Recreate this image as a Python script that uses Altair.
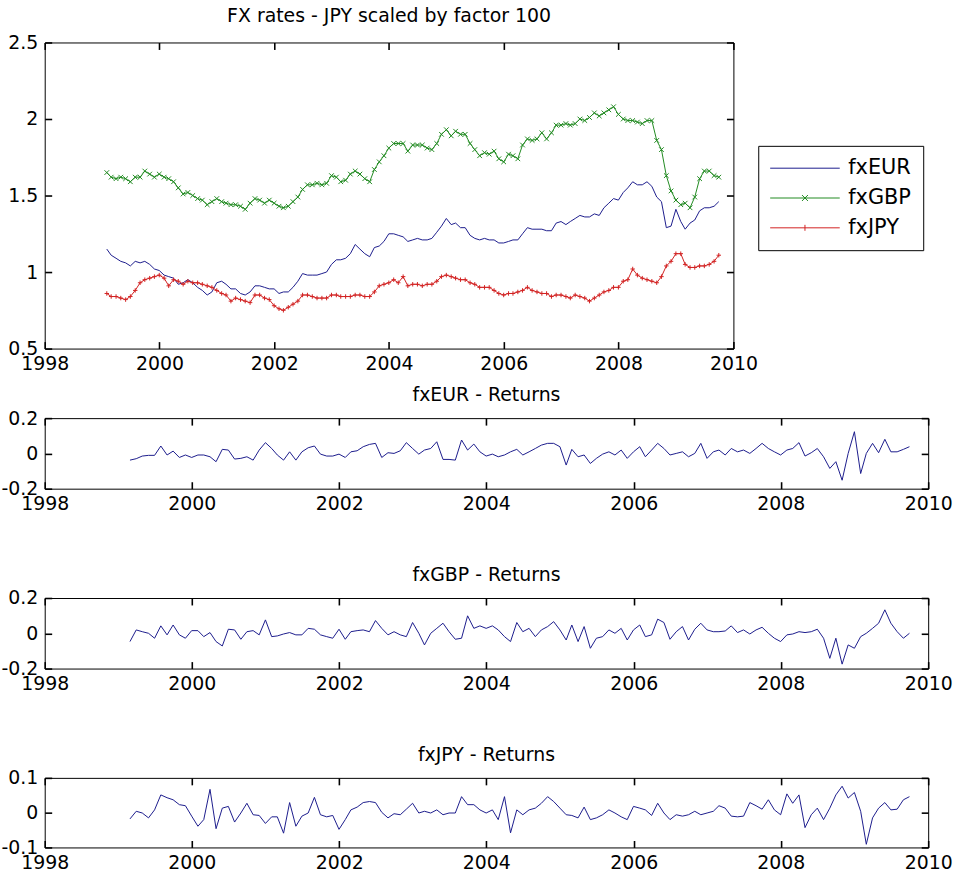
import altair as alt
import pandas as pd

# ---------------- data ----------------
level_dates = (pd.date_range("1999-02-01", periods=129, freq="MS")
               - pd.Timedelta(days=1)).strftime("%Y-%m-%d").tolist()
return_dates = level_dates[1:]

fxEUR = [
    1.15, 1.11, 1.09, 1.07, 1.06, 1.04, 1.07, 1.06, 1.07, 1.05, 1.02, 1.01,
    0.98, 0.97, 0.96, 0.92, 0.93, 0.95, 0.93, 0.90, 0.88, 0.85, 0.87, 0.93,
    0.94, 0.92, 0.89, 0.89, 0.86, 0.85, 0.87, 0.91, 0.91, 0.90, 0.89, 0.89,
    0.86, 0.87, 0.87, 0.90, 0.94, 0.99, 0.98, 0.98, 0.98, 0.99, 1.00, 1.05,
    1.08, 1.08, 1.09, 1.12, 1.18, 1.15, 1.12, 1.10, 1.16, 1.17, 1.20, 1.25,
    1.25, 1.24, 1.23, 1.20, 1.21, 1.22, 1.21, 1.21, 1.22, 1.26, 1.30, 1.35,
    1.31, 1.32, 1.29, 1.29, 1.24, 1.22, 1.21, 1.22, 1.21, 1.21, 1.19, 1.19,
    1.20, 1.21, 1.21, 1.25, 1.29, 1.28, 1.28, 1.28, 1.27, 1.27, 1.32, 1.33,
    1.31, 1.33, 1.35, 1.37, 1.36, 1.36, 1.38, 1.37, 1.42, 1.45, 1.48, 1.47,
    1.52, 1.55, 1.59, 1.57, 1.57, 1.59, 1.56, 1.49, 1.46, 1.29, 1.30, 1.41,
    1.33, 1.28, 1.32, 1.34, 1.40, 1.42, 1.42, 1.43, 1.46,
]
fxGBP = [
    1.65, 1.62, 1.61, 1.62, 1.61, 1.59, 1.62, 1.62, 1.66, 1.64, 1.62, 1.64,
    1.62, 1.61, 1.59, 1.55, 1.51, 1.52, 1.50, 1.48, 1.47, 1.44, 1.46, 1.48,
    1.46, 1.45, 1.44, 1.44, 1.43, 1.41, 1.45, 1.48, 1.47, 1.45, 1.47, 1.45,
    1.43, 1.42, 1.43, 1.46, 1.49, 1.54, 1.57, 1.57, 1.58, 1.57, 1.58, 1.63,
    1.62, 1.59, 1.60, 1.64, 1.66, 1.64, 1.61, 1.59, 1.67, 1.72, 1.76, 1.81,
    1.84, 1.84, 1.84, 1.79, 1.83, 1.83, 1.83, 1.81, 1.80, 1.84, 1.90, 1.93,
    1.89, 1.92, 1.90, 1.90, 1.84, 1.80, 1.76, 1.78, 1.77, 1.79, 1.74, 1.72,
    1.77, 1.76, 1.74, 1.83, 1.87, 1.86, 1.87, 1.91, 1.87, 1.91, 1.96, 1.96,
    1.97, 1.96, 1.97, 2.00, 1.99, 2.01, 2.04, 2.02, 2.04, 2.06, 2.08, 2.03,
    2.00, 1.99, 1.99, 1.98, 1.97, 1.99, 1.99, 1.86, 1.80, 1.63, 1.53, 1.47,
    1.44, 1.45, 1.42, 1.49, 1.61, 1.66, 1.66, 1.63, 1.62,
]
fxJPY = [
    0.86, 0.84, 0.84, 0.83, 0.82, 0.84, 0.88, 0.93, 0.95, 0.96, 0.97, 0.98,
    0.96, 0.91, 0.95, 0.94, 0.92, 0.94, 0.93, 0.93, 0.92, 0.91, 0.90, 0.88,
    0.86, 0.85, 0.81, 0.83, 0.82, 0.81, 0.80, 0.85, 0.85, 0.83, 0.82, 0.78,
    0.76, 0.75, 0.77, 0.79, 0.81, 0.85, 0.85, 0.84, 0.83, 0.83, 0.83, 0.85,
    0.85, 0.84, 0.84, 0.84, 0.85, 0.85, 0.84, 0.84, 0.87, 0.91, 0.92, 0.93,
    0.95, 0.93, 0.97, 0.91, 0.92, 0.92, 0.91, 0.92, 0.92, 0.94, 0.97, 0.98,
    0.97, 0.96, 0.95, 0.95, 0.93, 0.92, 0.90, 0.90, 0.90, 0.88, 0.86, 0.85,
    0.86, 0.86, 0.87, 0.88, 0.90, 0.88, 0.87, 0.86, 0.86, 0.84, 0.85, 0.85,
    0.84, 0.83, 0.85, 0.84, 0.83, 0.81, 0.83, 0.85, 0.87, 0.88, 0.90, 0.90,
    0.94, 0.95, 1.02, 0.98, 0.96, 0.95, 0.94, 0.93, 0.97, 1.04, 1.07, 1.12,
    1.12, 1.05, 1.03, 1.03, 1.04, 1.04, 1.05, 1.07, 1.11,
]

retEUR = [
    -0.038, -0.030, -0.015, -0.011, -0.011, 0.042, -0.009, 0.013, -0.023, -0.009,
    -0.023, -0.009, -0.009, -0.019, -0.047, 0.023, 0.019, -0.032, -0.028, -0.019,
    -0.038, 0.019, 0.061, 0.028, -0.009, -0.038, 0.009, -0.038, 0.009, 0.032,
    0.042, -0.004, -0.015, -0.015, -0.004, -0.023, 0.009, 0.015, 0.038, 0.051,
    0.057, -0.023, 0.004, 0.000, 0.015, 0.061, 0.028, -0.004, 0.019, 0.028,
    0.066, -0.034, -0.034, -0.038, 0.076, 0.019, 0.053, 0.009, -0.015, -0.004,
    -0.019, -0.009, 0.009, 0.023, -0.009, 0.009, 0.028, 0.047, 0.057, 0.057,
    0.038, -0.066, 0.023, -0.019, -0.009, -0.057, -0.028, -0.004, 0.009, -0.009,
    0.019, -0.028, 0.009, 0.038, -0.019, 0.019, 0.057, 0.028, -0.009, 0.000,
    0.009, -0.019, 0.000, 0.057, -0.028, 0.009, 0.019, -0.009, 0.028, 0.009,
    0.019, 0.000, 0.028, 0.057, 0.028, 0.009, -0.009, 0.019, 0.028, 0.061,
    -0.015, 0.004, 0.028, -0.019, -0.085, -0.047, -0.152, 0.000, 0.123, -0.114,
    0.000, 0.057, 0.004, 0.080, 0.009, 0.009, 0.023, 0.038,
]
retGBP = [
    -0.047, 0.019, 0.009, 0.000, -0.028, 0.042, -0.009, 0.047, -0.009, -0.028,
    0.015, 0.015, -0.019, 0.004, -0.047, -0.072, 0.023, 0.019, -0.034, 0.009,
    0.015, -0.009, 0.076, -0.019, -0.015, -0.004, 0.004, -0.009, -0.009, 0.028,
    0.023, -0.009, -0.019, -0.028, 0.023, -0.034, 0.009, 0.015, 0.019, 0.009,
    0.072, 0.028, -0.009, 0.009, -0.009, -0.019, 0.061, 0.000, -0.066, 0.000,
    0.028, 0.057, 0.009, -0.034, -0.028, 0.099, 0.028, 0.042, 0.028, 0.042,
    0.019, -0.019, -0.047, 0.061, 0.009, 0.028, -0.019, 0.019, 0.038, 0.066,
    0.019, -0.038, 0.047, -0.047, 0.038, -0.085, -0.028, -0.019, 0.019, 0.000,
    0.028, -0.038, 0.019, 0.047, -0.019, -0.009, 0.080, 0.061, -0.034, 0.009,
    0.038, -0.038, 0.023, 0.057, 0.019, 0.009, 0.009, 0.013, 0.042, 0.004,
    0.019, -0.004, 0.019, 0.034, 0.000, -0.028, -0.047, -0.009, -0.004, 0.009,
    0.004, 0.009, 0.023, -0.028, -0.142, -0.028, -0.175, -0.066, -0.085, -0.019,
    0.000, 0.028, 0.057, 0.133, 0.057, 0.009, -0.028, 0.000,
]
retJPY = [
    -0.018, 0.004, -0.001, -0.015, 0.008, 0.051, 0.043, 0.037, 0.023, 0.020,
    -0.010, -0.039, -0.020, 0.067, -0.046, 0.013, 0.018, -0.027, -0.001, 0.027,
    -0.006, -0.008, -0.031, -0.012, -0.012, -0.059, 0.029, -0.039, -0.010, -0.001,
    0.044, -0.006, -0.012, -0.008, -0.048, -0.020, 0.008, 0.016, 0.029, 0.032,
    0.029, 0.001, -0.015, -0.003, -0.006, 0.010, 0.027, -0.001, 0.004, -0.001,
    0.008, -0.006, -0.001, -0.001, 0.046, 0.023, 0.023, 0.008, -0.001, 0.008,
    -0.020, 0.046, -0.058, 0.008, -0.006, 0.008, 0.013, 0.027, 0.046, 0.032,
    0.013, -0.006, -0.008, -0.015, 0.016, -0.020, -0.015, -0.006, 0.008, -0.001,
    -0.012, -0.020, 0.018, 0.013, 0.008, -0.008, 0.027, -0.001, -0.020, -0.006,
    -0.010, -0.006, 0.004, -0.006, -0.001, 0.004, 0.020, 0.013, -0.010, -0.012,
    -0.010, 0.029, 0.020, 0.010, 0.037, 0.008, -0.006, 0.054, 0.027, 0.051,
    -0.043, -0.006, 0.013, -0.020, 0.013, 0.051, 0.076, 0.042, 0.058, 0.004,
    -0.091, -0.015, 0.013, 0.029, 0.008, 0.010, 0.037, 0.046,
]

series_names = ["fxEUR", "fxGBP", "fxJPY"]
series_colors = ["#1c1c8c", "#218a21", "#d22222"]
return_color = "#1c1c8c"
axis_years = [1998, 2000, 2002, 2004, 2006, 2008, 2010]

# ---------------- axes (MATLAB-style inward ticks on all four sides) ----------------
FONT = "DejaVu Sans"
TICK = 7
year_values = [alt.DateTime(year=y, month=1, date=1, utc=True) for y in axis_years]
x_scale = alt.Scale(type="utc", domain=[year_values[0], year_values[-1]])

tick_style = dict(ticks=True, tickSize=TICK, tickColor="#000000", tickWidth=1.6,
                  tickOpacity=1, offset=-TICK, domain=False, grid=False, title=None,
                  zindex=1)

x_bottom = alt.Axis(orient="bottom", values=year_values, format="%Y",
                    labelFlush=False, labelOverlap=False, labelPadding=6, **tick_style)
x_top = alt.Axis(orient="top", values=year_values, labels=False, **tick_style)


def y_left(vals):
    return alt.Axis(orient="left", values=vals, labelPadding=7, labelOverlap=False,
                    labelFlush=False,
                    labelExpr="datum.value < 0 ? '-' + format(-datum.value, '~g') : format(datum.value, '~g')",
                    **tick_style)


def y_right(vals):
    return alt.Axis(orient="right", values=vals, labels=False, **tick_style)


# ---------------- top chart ----------------
levels = pd.DataFrame({
    "date": level_dates * 3,
    "series": [s for s in series_names for _ in level_dates],
    "value": fxEUR + fxGBP + fxJPY,
})

W_TOP, H_TOP = 693, 308
top_y_vals = [0.5, 1, 1.5, 2, 2.5]
y_top = alt.Scale(domain=[0.5, 2.5], nice=False, zero=False)
color_scale = alt.Scale(domain=series_names, range=series_colors)
shape_scale = alt.Scale(domain=series_names, range=[
    "M-3.5,0L3.5,0",
    "M-3.5,0L3.5,0M-0.3,-0.3L0.3,0.3M-0.3,0.3L0.3,-0.3",
    "M-3.5,0L3.5,0M0,-0.3L0,0.3",
])

x_none = alt.X("date:T", scale=x_scale, axis=None)
y_none = alt.Y("value:Q", scale=y_top, axis=None)

line_layers = []
for i, (s, c) in enumerate(zip(series_names, series_colors)):
    enc = dict(x=alt.X("date:T", scale=x_scale, axis=x_bottom),
               y=alt.Y("value:Q", scale=y_top, axis=y_left(top_y_vals))) if i == 0 \
        else dict(x=x_none, y=y_none)
    line_layers.append(
        alt.Chart(levels).transform_filter(f"datum.series == '{s}'")
        .mark_line(strokeWidth=1, color=c).encode(**enc)
    )

gbp_pts = alt.Chart(levels).transform_filter("datum.series == 'fxGBP'").mark_point(
    shape="M-1,-1L1,1M-1,1L1,-1", size=22, filled=False, strokeWidth=1,
    color=series_colors[1], opacity=1,
).encode(x=x_none, y=y_none)

jpy_pts = alt.Chart(levels).transform_filter("datum.series == 'fxJPY'").mark_point(
    shape="M-1,0L1,0M0,-1L0,1", size=20, filled=False, strokeWidth=1,
    color=series_colors[2], opacity=1,
).encode(x=x_none, y=y_none)

legend_props = dict(orient="none", legendX=718, legendY=104, title=None,
                    symbolSize=400, symbolStrokeWidth=1, symbolOffset=24.5,
                    labelFont=FONT, labelFontSize=21, labelColor="black",
                    labelOffset=33, strokeColor="black", fillColor="white",
                    padding=12, rowPadding=8, symbolOpacity=1)

# empty layer: carries the legend and the top/right tick-only axes
legend_layer = alt.Chart(levels).transform_filter("datum.value > 100").mark_point(
    filled=False, strokeWidth=1, opacity=1
).encode(
    x=alt.X("date:T", scale=x_scale, axis=x_top),
    y=alt.Y("value:Q", scale=y_top, axis=y_right(top_y_vals)),
    color=alt.Color("series:N", scale=color_scale, legend=alt.Legend(**legend_props)),
    shape=alt.Shape("series:N", scale=shape_scale, legend=alt.Legend(**legend_props)),
)

top = alt.layer(
    *line_layers, gbp_pts, jpy_pts, legend_layer,
).resolve_axis(x="independent", y="independent").properties(
    width=W_TOP, height=H_TOP,
    title=alt.TitleParams("FX rates - JPY scaled by factor 100", offset=8),
)

# ---------------- returns charts ----------------
W_R = 889


def returns_chart(values, title_lines, lim, height):
    df = pd.DataFrame({"date": return_dates, "value": values})
    ys = alt.Scale(domain=[-lim, lim], nice=False, zero=False)
    vals = [-lim, 0, lim]
    line = alt.Chart(df).mark_line(strokeWidth=1, color=return_color).encode(
        x=alt.X("date:T", scale=x_scale, axis=x_bottom),
        y=alt.Y("value:Q", scale=ys, axis=y_left(vals)),
    )
    frame = alt.Chart(df).transform_filter("datum.value > 100").mark_point(opacity=0).encode(
        x=alt.X("date:T", scale=x_scale, axis=x_top),
        y=alt.Y("value:Q", scale=ys, axis=y_right(vals)),
    )
    return alt.layer(line, frame).resolve_axis(x="independent", y="independent").properties(
        width=W_R, height=height,
        title=alt.TitleParams(title_lines, offset=4, lineHeight=40),
    )


r_eur = returns_chart(retEUR, "fxEUR - Returns", 0.2, 71)
r_gbp = returns_chart(retGBP, ["", "fxGBP - Returns"], 0.2, 71)
r_jpy = returns_chart(retJPY, ["", "fxJPY - Returns"], 0.1, 70)

chart = alt.vconcat(top, r_eur, r_gbp, r_jpy, spacing=11).properties(
    padding={"left": 0, "top": 3, "right": 5, "bottom": 2},
    background="white",
).configure_view(
    stroke="black", strokeWidth=1,
).configure_axis(
    labelFont=FONT, labelFontSize=19, labelColor="black",
).configure_title(
    font=FONT, fontSize=19, fontWeight="normal", color="black",
    anchor="middle", frame="group",
)

chart.save("out.html", embed_options={"renderer": "svg", "actions": False})
